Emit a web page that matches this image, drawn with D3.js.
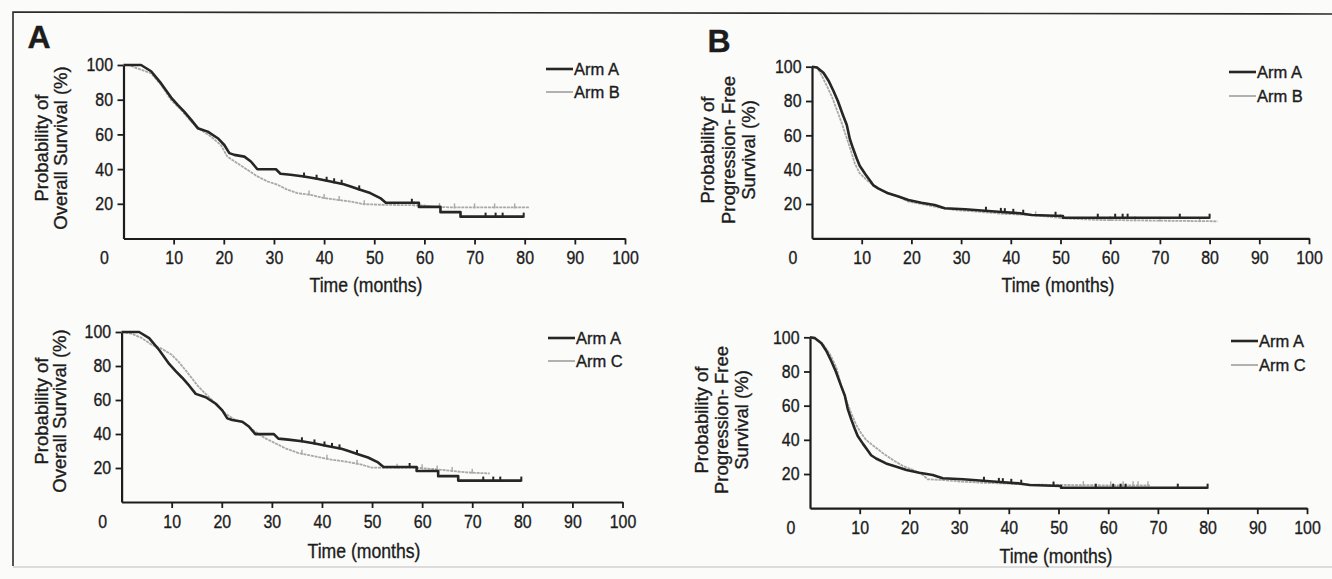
<!DOCTYPE html>
<html>
<head>
<meta charset="utf-8">
<script src="https://cdn.jsdelivr.net/npm/d3@7"></script>
<style>
  html, body { margin: 0; padding: 0; background: #fbfbfa; }
  svg { display: block; }
  text { fill: #1c1c1c; font-family: "Liberation Sans", Arial, Helvetica, sans-serif; stroke: #1c1c1c; stroke-width: 0.35px; }
</style>
</head>
<body>
<svg id="chart" width="1332" height="579"></svg>
<script>
// ---------------- DATA ----------------
const timeTicks = [10, 20, 30, 40, 50, 60, 70, 80, 90, 100];
const survTicks = [20, 40, 60, 80, 100];

// Overall survival, Arm A  [months, % surviving]
const osArmA = [[0,100],[3.5,100],[5.5,96.4],[7.5,89.4],[9.5,81.2],[10.8,77],[12.1,73.1],[13.5,68.4],[14.8,63.6],[16.8,61.6],[18.8,57.8],[20.1,53.9],[21.1,49.2],[22.1,48.2],[24.1,47.2],[25.4,44.4],[26.7,39.9],[30.4,39.9],[31.3,37.3],[33.3,36.7],[36,35.7],[38.6,34.4],[41.3,32.8],[43.9,31.3],[45.3,30],[47.2,28.1],[49.2,26.2],[51.2,23.3],[52.3,20.6],[58.9,20.6],[58.9,18.2],[63.2,18.2],[63.2,15.2],[67.2,15.2],[67.2,12.6],[79.8,12.6]];
const osArmB = [[0,100],[1,100],[2.8,98],[5.5,95.2],[7.5,88.5],[9.5,79.8],[11.5,74.1],[13.5,67.4],[15.4,62.6],[17.4,58.8],[19.4,53.9],[20.7,47.2],[22.7,43.4],[24.7,39.6],[26.7,35.8],[28.7,32.9],[30.7,31],[32.7,28.1],[34.7,26.1],[37.3,25.2],[40,23.3],[42.6,22.3],[45.3,21.3],[47.9,19.8],[51.9,19.4],[57.2,19.2],[60.3,19],[61.6,18.3],[65.6,17.9],[81,17.9]];
const osArmC = [[0,100],[2,99],[4,96.5],[6,92.5],[8,90.2],[10,86.6],[11.3,82.7],[12.7,77.8],[14,72.9],[15.3,68],[16.6,64.1],[18,60.2],[19.3,56.3],[20.6,52.3],[22.6,48.4],[24.6,46.4],[26.6,41.5],[28.6,37.6],[30.6,34.7],[32.6,31.7],[35.3,28.8],[38.6,26.8],[41.9,24.9],[45.3,23.5],[47.9,22],[49.9,20.2],[59.6,20],[62.2,19.4],[64.9,18.6],[68.9,17.4],[73.5,16.8]];

// Progression-free survival
const pfsArmA = [[0,100],[1,99.5],[2.3,96.5],[3.3,92],[4.3,86],[5.2,80],[6.2,72],[7,66],[7.6,58],[8.3,52],[9,46.5],[9.6,42.3],[10.7,37.5],[11.7,33.5],[12.3,31],[13.3,29.1],[15.3,26.2],[17.4,24.3],[19.4,22.3],[22,20.7],[24.7,19.4],[26.7,17.5],[30.8,16.9],[34.8,16.1],[37.5,15.5],[42.1,14.5],[44.2,13.6],[50.5,13],[50.5,12],[80,12]];
const pfsArmB = [[0,100],[1,99.6],[1.9,95.2],[2.9,89.3],[4,82.6],[5,74.8],[6,67],[7,58.3],[8,49.5],[8.6,43.7],[9.6,37.9],[11,34],[12.7,30.1],[14.7,27.2],[17.4,24.3],[19.4,21.4],[22,20],[25.4,18],[28.7,16.5],[33.4,15.5],[38.8,14.2],[44.2,13.6],[50.9,11.6],[57.6,10.7],[81.6,9.9]];
const pfsArmC = [[0,100],[1,99.5],[2.6,96],[4,90.2],[5.3,82.4],[6.3,71.1],[7.3,63.3],[8.3,55.5],[9.3,48.7],[10.3,43.8],[11.3,39.9],[13,36],[14.7,32.1],[16.7,28.2],[18.7,24.7],[20.7,22.4],[22.7,19.5],[23.7,16.9],[26.7,16.5],[30.8,15.5],[34.8,14.9],[38.8,14.5],[44.2,13.8],[50.9,13.6],[58.9,13.4],[68.4,13.4]];

// Censoring marks (months)
const osArmACensor = [36, 38.5, 40.5, 42, 43.5, 47, 57.5, 72.2, 74.2, 75.6, 79.8];
const osArmBCensor = [37, 40, 43, 48, 58, 63, 66, 70, 74, 78];
const osArmCCensor = [36, 41, 47, 55, 60, 63, 66, 70];
const pfsArmACensor = [35, 38, 38.8, 40.5, 42.5, 49, 57.5, 61, 62.5, 63.5, 74, 80];
const pfsArmBCensor = [45, 50, 60, 65, 70, 78];
const pfsArmCCensor = [49, 55, 60.5, 63, 65, 66, 68];

const seriesNames = { A: "Arm A", B: "Arm B", C: "Arm C" };

// ---------------- LAYOUT ----------------
const svg = d3.select("#chart");
const COND = 0.86;

const panels = [
  { letter: "A", letterPos: [39, 48], xr: [123.5, 625], yr: [238.5, 65],
    curves: [ {d: osArmA, c: osArmACensor, k: "A"}, {d: osArmB, c: osArmBCensor, k: "B"} ],
    ylab: ["Probability of", "Overall Survival (%)"], ylabX: [42, 61], ylabY: 148,
    xtitle: [366, 292], leg: [546, 69, 92] },
  { letter: null, xr: [121.6, 622.5], yr: [502, 332],
    curves: [ {d: osArmA, c: osArmACensor, k: "A"}, {d: osArmC, c: osArmCCensor, k: "C"} ],
    ylab: ["Probability of", "Overall Survival (%)"], ylabX: [42, 60], ylabY: 411,
    xtitle: [364, 558], leg: [548, 338, 361] },
  { letter: "B", letterPos: [719, 52], xr: [812, 1309], yr: [238.3, 66.7],
    curves: [ {d: pfsArmA, c: pfsArmACensor, k: "A"}, {d: pfsArmB, c: pfsArmBCensor, k: "B"} ],
    ylab: ["Probability of", "Progression- Free", "Survival (%)"], ylabX: [708, 729, 749], ylabY: 150,
    xtitle: [1058, 292], leg: [1229, 72, 96] },
  { letter: null, xr: [810, 1307], yr: [508.2, 337.3],
    curves: [ {d: pfsArmA, c: pfsArmACensor, k: "A"}, {d: pfsArmC, c: pfsArmCCensor, k: "C"} ],
    ylab: ["Probability of", "Progression- Free", "Survival (%)"], ylabX: [702, 722, 742], ylabY: 420,
    xtitle: [1056, 563], leg: [1231, 341, 365] }
];

const style = {
  A: { stroke: "#262626", width: 2.6 },
  B: { stroke: "#a9a9a9", width: 1.8 },
  C: { stroke: "#a9a9a9", width: 1.8 }
};

// frame
svg.append("path").attr("d", "M13,566 L13,12 L1332,14").attr("fill", "none").attr("stroke", "#2b2b2b").attr("stroke-width", 1.6);
svg.append("line").attr("x1", 13).attr("x2", 1332).attr("y1", 567).attr("y2", 567).attr("stroke", "#bdbdbd").attr("stroke-width", 1.2);

function valueAt(arr, t) {
  for (let i = 1; i < arr.length; i++) {
    if (t <= arr[i][0]) {
      const [t0, s0] = arr[i - 1], [t1, s1] = arr[i];
      if (t1 === t0) return s1;
      return s0 + (s1 - s0) * (t - t0) / (t1 - t0);
    }
  }
  return arr[arr.length - 1][1];
}

panels.forEach(p => {
  const g = svg.append("g");
  const x = d3.scaleLinear().domain([0, 100]).range(p.xr);
  const y = d3.scaleLinear().domain([0, 100]).range(p.yr);

  // x axis
  const xa = g.append("g").attr("transform", `translate(0,${p.yr[0]})`)
    .call(d3.axisBottom(x).tickValues(timeTicks).tickSizeInner(6).tickSizeOuter(0).tickPadding(6.5).tickFormat(d3.format("d")));
  xa.select(".domain").attr("stroke", "#1c1c1c").attr("stroke-width", 2.2);
  xa.selectAll(".tick line").attr("stroke", "#1c1c1c").attr("stroke-width", 1.8);
  xa.selectAll(".tick text").attr("font-size", 18.5).attr("fill", "#1c1c1c")
    .attr("font-family", '"Liberation Sans", Arial, sans-serif')
    .attr("transform", `scale(${COND},1)`);
  // origin label
  g.append("text").attr("transform", `translate(${x(0) - 19},${p.yr[0] + 25.5}) scale(${COND},1)`)
    .attr("text-anchor", "middle").attr("font-size", 18.5).text("0");

  // y axis
  const ya = g.append("g").attr("transform", `translate(${p.xr[0]},0)`)
    .call(d3.axisLeft(y).tickValues(survTicks).tickSizeInner(6).tickSizeOuter(0).tickPadding(4));
  ya.select(".domain").attr("stroke", "#1c1c1c").attr("stroke-width", 2.2);
  ya.selectAll(".tick line").attr("stroke", "#1c1c1c").attr("stroke-width", 1.8);
  ya.selectAll(".tick text").attr("font-size", 18.5).attr("fill", "#1c1c1c")
    .attr("font-family", '"Liberation Sans", Arial, sans-serif')
    .attr("x", -10.5 / COND)
    .attr("transform", `scale(${COND},1)`);

  // y title
  p.ylab.forEach((t, i) => {
    g.append("text")
      .attr("transform", `translate(${p.ylabX[i]},${p.ylabY}) rotate(-90)`)
      .attr("text-anchor", "middle").attr("dy", "0.35em")
      .attr("font-size", 18.5).text(t);
  });

  // x title
  g.append("text").attr("transform", `translate(${p.xtitle[0]},${p.xtitle[1]}) scale(${COND},1)`)
    .attr("text-anchor", "middle").attr("font-size", 20.5).text("Time (months)");

  // panel letter
  if (p.letter) {
    g.append("text").attr("x", p.letterPos[0]).attr("y", p.letterPos[1])
      .attr("text-anchor", "middle").attr("font-size", 32).attr("font-weight", "bold")
      .attr("fill", "#111").text(p.letter);
  }

  // curves (gray first, black on top)
  const line = d3.line().x(d => x(d[0])).y(d => y(d[1]));
  [...p.curves].reverse().forEach(c => {
    const st = style[c.k];
    g.append("path").datum(c.d).attr("d", line).attr("fill", "none")
      .attr("stroke", st.stroke).attr("stroke-width", st.width)
      .attr("stroke-linejoin", "round")
      .attr("stroke-dasharray", c.k === "A" ? null : "3,0.8");
    g.selectAll(null).data(c.c).enter().append("line")
      .attr("x1", t => x(t)).attr("x2", t => x(t))
      .attr("y1", t => y(valueAt(c.d, t)) - 4).attr("y2", t => y(valueAt(c.d, t)) + 1)
      .attr("stroke", st.stroke).attr("stroke-width", c.k === "A" ? 2 : 1.4);
  });

  // legend
  p.curves.forEach((c, i) => {
    const st = style[c.k];
    const ly = p.leg[1 + i];
    g.append("line").attr("x1", p.leg[0]).attr("x2", p.leg[0] + 27)
      .attr("y1", ly).attr("y2", ly).attr("stroke", st.stroke).attr("stroke-width", st.width);
    g.append("text").attr("x", p.leg[0] + 28).attr("y", ly).attr("dy", "0.36em")
      .attr("font-size", 16.5).text(seriesNames[c.k]);
  });
});
</script>
</body>
</html>
